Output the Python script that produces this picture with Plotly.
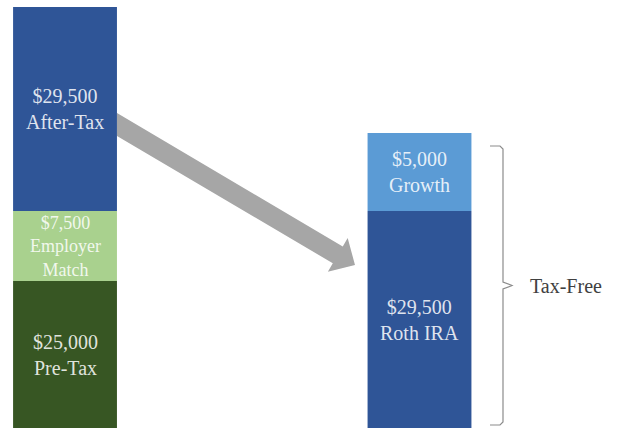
import math
import plotly.graph_objects as go

# ---------------- data ----------------
categories = ["Traditional 401(k)", "Roth IRA"]

# segment labels (amount + name), bottom to top
left_amounts = ["$25,000", "$7,500", "$29,500"]
left_names = ["Pre-Tax", "Employer<br>Match", "After-Tax"]
right_amounts = ["$29,500", "$5,000"]
right_names = ["Roth IRA", "Growth"]

# displayed (illustrative, not to scale) segment heights
left_heights = [147, 70, 204]
right_heights = [217, 78]

left_colors = ["#375623", "#A9D18E", "#2F5597"]
right_colors = ["#2F5597", "#5B9BD5"]
left_font = [20, 18, 20]
right_font = [20, 20]

bracket_label = "Tax-Free"

W, H = 620, 428

fig = go.Figure()

# stacked bars: one trace per segment
def add_stack(cat, heights, colors, amounts, names, fsizes):
    base = 0
    for h, c, a, n, fs in zip(heights, colors, amounts, names, fsizes):
        fig.add_trace(go.Bar(
            x=[cat], y=[h], base=[base], marker=dict(color=c, line=dict(width=0)),
            width=0.293, showlegend=False, hoverinfo="skip"))
        fig.add_annotation(
            x=cat, y=base + h / 2, xref="x", yref="y",
            text=f"{a}<br>{n}", showarrow=False,
            font=dict(family="Liberation Serif, serif", size=fs,
                      color="rgba(255,255,255,0.86)"),
            align="center", yanchor="middle")
        base += h

add_stack(categories[0], left_heights, left_colors, left_amounts, left_names, left_font)
add_stack(categories[1], right_heights, right_colors, right_amounts, right_names, right_font)

# ---------- decorative arrow (paper coordinates) ----------
def px(x, y):
    return x / W, 1 - y / H

start = (117, 124.5)
tip = (355, 265)
shaft_half = 9.8
head_half = 19.5
head_len = 20
dx, dy = tip[0] - start[0], tip[1] - start[1]
L = math.hypot(dx, dy)
ux, uy = dx / L, dy / L
nx, ny = -uy, ux
bx, by = tip[0] - ux * head_len, tip[1] - uy * head_len
# shaft left end cut vertically at bar edge
pts = [
    (start[0], start[1] - shaft_half / ux),
    (bx + nx * -shaft_half, by + ny * -shaft_half),
    (bx - nx * head_half, by - ny * head_half),
    tip,
    (bx + nx * head_half, by + ny * head_half),
    (bx + nx * shaft_half, by + ny * shaft_half),
    (start[0], start[1] + shaft_half / ux),
]
path = "M " + " L ".join(f"{px(*p)[0]:.5f},{px(*p)[1]:.5f}" for p in pts) + " Z"
fig.add_shape(type="path", xref="paper", yref="paper", path=path,
              fillcolor="#A6A6A6", line=dict(width=0), layer="above")

# ---------- brace ----------
bpts = [(490, 146), (500, 146), (503, 149), (503, 282), (512, 285.5),
        (503, 289), (503, 422), (500, 425), (490, 425)]
bpath = "M " + " L ".join(f"{px(*p)[0]:.5f},{px(*p)[1]:.5f}" for p in bpts)
fig.add_shape(type="path", xref="paper", yref="paper", path=bpath,
              line=dict(color="#8C8C8C", width=1.2))

fig.add_annotation(x=px(528, 0)[0], y=px(0, 286)[1], xref="paper", yref="paper",
                   text=bracket_label, showarrow=False, xanchor="left", yanchor="middle",
                   font=dict(family="Liberation Serif, serif", size=20, color="#404040"))

fig.update_layout(
    width=W, height=H, margin=dict(l=0, r=0, t=0, b=0),
    paper_bgcolor="white", plot_bgcolor="white", barmode="overlay",
    xaxis=dict(visible=False, range=[-0.1834, 1.5656], type="category"),
    yaxis=dict(visible=False, range=[0, H]),
)

fig.write_html("out.html")
